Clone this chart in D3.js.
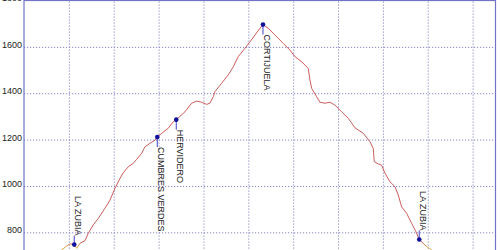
<!DOCTYPE html>
<html>
<head>
<meta charset="utf-8">
<script src="https://cdn.jsdelivr.net/npm/d3@7"></script>
<style>
  body { margin: 0; background: #fff; overflow: hidden; }
  svg { display: block; font-family: "Liberation Sans", Arial, sans-serif; }
  .grid line { stroke: #8585c4; stroke-dasharray: 1.2,1.8; }
  .grid path { display: none; }
  .ylab path { display: none; }
  .ylab text { font-size: 9px; fill: #222; }
  .wpt text { font-size: 9px; fill: #222; }
</style>
</head>
<body>
<div id="chart"></div>
<script>
// elevation profile, distance in km / altitude in m
var distKm = [0.58, 0.84, 0.95, 1.025, 1.12, 1.175, 1.248, 1.36, 1.433, 1.544, 1.656, 1.805, 1.917, 2.028,
  2.14, 2.213, 2.325, 2.436, 2.512, 2.623, 2.697, 2.808, 2.92, 2.971, 3.069, 3.216, 3.327, 3.394,
  3.588, 3.737, 3.849, 3.96, 4.072, 4.145, 4.219, 4.257, 4.406, 4.553, 4.665, 4.776, 4.925, 5.037,
  5.148, 5.26, 5.327, 5.445, 5.594, 5.779, 5.928, 6.04, 6.189, 6.336, 6.374, 6.412, 6.523, 6.597,
  6.708, 6.82, 6.931, 7.08, 7.228, 7.377, 7.562, 7.711, 7.785, 7.807, 7.896, 7.972, 8.046, 8.157,
  8.268, 8.342, 8.418, 8.529, 8.641, 8.736, 8.81, 8.937, 9.033, 9.271];
var altM = [685, 724, 741, 750, 747, 731, 753, 764, 796, 832, 860, 904, 939, 990,
  1033, 1057, 1083, 1098, 1115, 1141, 1169, 1184, 1198, 1211, 1227, 1249, 1277, 1286,
  1320, 1357, 1366, 1361, 1352, 1357, 1385, 1407, 1443, 1479, 1514, 1558, 1594, 1622,
  1651, 1680, 1696, 1680, 1651, 1615, 1586, 1558, 1536, 1507, 1457, 1421, 1385, 1361,
  1357, 1361, 1349, 1320, 1292, 1251, 1227, 1191, 1162, 1105, 1095, 1090, 1055, 1018,
  997, 961, 910, 882, 839, 803, 769, 745, 731, 698];

// waypoints
var wptNames = ["LA ZUBIA", "CUMBRES VERDES", "HERVIDERO", "CORTIJUELA", "LA ZUBIA"];
var wptKm = [1.12, 2.971, 3.394, 5.327, 8.81];
var wptAlt = [747, 1211, 1286, 1696, 769];
var wptSide = ["up", "down", "down", "down", "up"];

var xTicks = [1, 2, 3, 4, 5, 6, 7, 8, 9, 10];
var yGrid = [800, 1000, 1200, 1400, 1600];
var yLabels = [800, 1000, 1200, 1400, 1600, 1800];

var width = 500, height = 250;
var plotLeft = 24, plotRight = 495.5, plotTop = 0.5, plotBottom = 278.7;

var svg = d3.select("#chart").append("svg")
  .attr("width", width)
  .attr("height", height);

var x = d3.scaleLinear().domain([0, 10.51]).range([plotLeft, plotRight]);
var y = d3.scaleLinear().domain([600, 1800]).range([plotBottom, plotTop]);

// grid
svg.append("g").attr("class", "grid")
  .attr("transform", "translate(0," + plotBottom + ")")
  .call(d3.axisBottom(x).tickValues(xTicks).tickSize(-(plotBottom - plotTop)).tickFormat(""));
svg.append("g").attr("class", "grid")
  .attr("transform", "translate(" + plotLeft + ",0)")
  .call(d3.axisLeft(y).tickValues(yGrid).tickSize(-(plotRight - plotLeft)).tickFormat(""));

// y labels
var ylab = svg.append("g").attr("class", "ylab")
  .attr("transform", "translate(" + plotLeft + ",0)")
  .call(d3.axisLeft(y).tickValues(yLabels).tickSize(0).tickPadding(2).tickFormat(d3.format("d")));
ylab.selectAll("text").attr("dy", "0.05em");

// frame
svg.append("rect")
  .attr("x", plotLeft).attr("y", plotTop)
  .attr("width", plotRight - plotLeft).attr("height", plotBottom - plotTop)
  .attr("fill", "none")
  .attr("stroke", "#7272c6")
  .attr("stroke-width", 1.2);

// profile coloured by altitude (orange low, red above)
var grad = svg.append("defs").append("linearGradient")
  .attr("id", "altGrad")
  .attr("gradientUnits", "userSpaceOnUse")
  .attr("x1", 0).attr("x2", 0)
  .attr("y1", y(735)).attr("y2", y(760));
grad.append("stop").attr("offset", 0).attr("stop-color", "#e0a030");
grad.append("stop").attr("offset", 1).attr("stop-color", "#c44a4a");

var profile = distKm.map(function(d, i) { return [d, altM[i]]; });
svg.append("path")
  .datum(profile)
  .attr("fill", "none")
  .attr("stroke", "url(#altGrad)")
  .attr("stroke-width", 0.9)
  .attr("d", d3.line().x(function(d) { return x(d[0]); }).y(function(d) { return y(d[1]); }));

// waypoints with rotated labels
var wpt = svg.append("g").attr("class", "wpt")
  .selectAll("g")
  .data(wptNames)
  .enter().append("g")
  .attr("transform", function(d, i) { return "translate(" + x(wptKm[i]) + "," + y(wptAlt[i]) + ")"; });

wpt.append("line")
  .attr("x1", 0).attr("y1", 0)
  .attr("x2", 0)
  .attr("y2", function(d, i) { return wptSide[i] === "up" ? -9 : 10; })
  .attr("stroke", "#2c2cc8")
  .attr("stroke-width", 0.9);

wpt.append("text")
  .attr("transform", function(d, i) {
    return "translate(0.3," + (wptSide[i] === "up" ? -9 : 10) + ") rotate(90)";
  })
  .attr("text-anchor", function(d, i) { return wptSide[i] === "up" ? "end" : "start"; })
  .attr("dy", "-0.1em")
  .text(function(d) { return d; });

wpt.append("circle")
  .attr("r", 2.3)
  .attr("fill", "#10109a");
</script>
</body>
</html>
